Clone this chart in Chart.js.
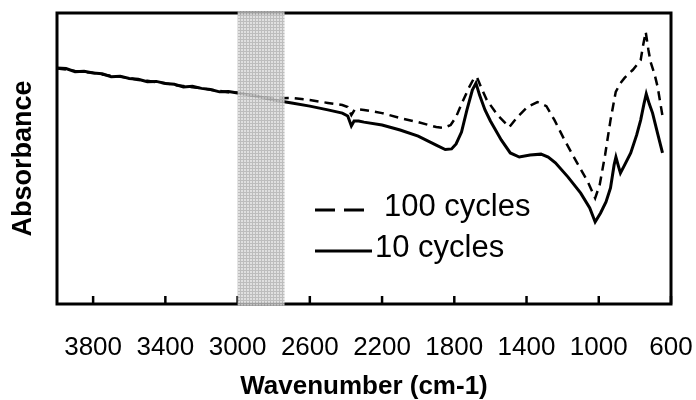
<!DOCTYPE html>
<html>
<head>
<meta charset="utf-8">
<script src="https://cdn.jsdelivr.net/npm/chart.js"></script>
<style>
  html, body { margin: 0; padding: 0; background: #fff; }
</style>
</head>
<body>
<canvas id="myChart" width="696" height="400"></canvas>
<script>
// x axis tick labels and the shaded band (wavenumber, cm-1)
const tickLabels = [3800, 3400, 3000, 2600, 2200, 1800, 1400, 1000, 600];
const shadeBand = [3000, 2740];

// 10 cycles (solid)
const wn10 = [4000, 3950, 3900, 3850, 3800, 3750, 3700, 3650, 3600, 3550, 3500, 3450, 3400, 3350, 3300, 3250, 3200, 3150, 3100, 3050,
  3000, 2900, 2800, 2700, 2600, 2500, 2420, 2390, 2370, 2355, 2330, 2300, 2200, 2100, 2000, 1900, 1850, 1815, 1790, 1760,
  1730, 1700, 1680, 1660, 1630, 1600, 1540, 1490, 1440, 1380, 1320, 1280, 1240, 1170, 1100, 1050, 1020, 990, 960, 935,
  915, 905, 890, 880, 860, 823, 790, 768, 750, 737, 720, 702, 675, 647];
const abs10 = [0.811, 0.809, 0.798, 0.800, 0.794, 0.791, 0.781, 0.783, 0.775, 0.772, 0.764, 0.765, 0.758, 0.755, 0.746, 0.748, 0.741, 0.737, 0.729, 0.730,
  0.725, 0.715, 0.701, 0.691, 0.680, 0.667, 0.656, 0.646, 0.612, 0.629, 0.629, 0.625, 0.615, 0.598, 0.577, 0.546, 0.531, 0.533, 0.550, 0.591,
  0.667, 0.735, 0.759, 0.718, 0.667, 0.629, 0.564, 0.519, 0.505, 0.512, 0.515, 0.505, 0.485, 0.436, 0.381, 0.330, 0.282, 0.313, 0.351, 0.399,
  0.478, 0.505, 0.471, 0.450, 0.474, 0.519, 0.581, 0.632, 0.687, 0.722, 0.687, 0.656, 0.588, 0.519];

// 100 cycles (dashed)
const wn100 = [4000, 3950, 3900, 3850, 3800, 3750, 3700, 3650, 3600, 3550, 3500, 3450, 3400, 3350, 3300, 3250, 3200, 3150, 3100, 3050,
  3000, 2900, 2800, 2700, 2600, 2500, 2420, 2390, 2370, 2350, 2300, 2200, 2100, 2000, 1900, 1860, 1820, 1790, 1760, 1720,
  1690, 1675, 1650, 1620, 1560, 1495, 1450, 1395, 1340, 1290, 1245, 1190, 1120, 1060, 1020, 995, 965, 935, 906, 880,
  857, 830, 812, 790, 768, 755, 740, 725, 713, 690, 674, 647];
const abs100 = [0.809, 0.806, 0.801, 0.797, 0.795, 0.789, 0.784, 0.781, 0.776, 0.770, 0.767, 0.762, 0.759, 0.752, 0.749, 0.745, 0.742, 0.736, 0.732, 0.728,
  0.726, 0.716, 0.706, 0.708, 0.701, 0.691, 0.684, 0.677, 0.649, 0.670, 0.667, 0.656, 0.639, 0.625, 0.608, 0.605, 0.615, 0.643, 0.687, 0.742,
  0.777, 0.780, 0.742, 0.701, 0.649, 0.608, 0.643, 0.677, 0.694, 0.680, 0.632, 0.564, 0.485, 0.419, 0.364, 0.409, 0.512, 0.632, 0.729, 0.759,
  0.777, 0.794, 0.804, 0.821, 0.838, 0.887, 0.935, 0.873, 0.832, 0.787, 0.746, 0.646];

const FONT = "'Liberation Sans', Arial, sans-serif";

function toPoints(xs, ys) {
  return xs.map((x, i) => ({ x: x, y: ys[i] }));
}

function makePattern(ctx) {
  const c = document.createElement('canvas');
  c.width = 3; c.height = 3;
  const p = c.getContext('2d');
  p.fillStyle = '#dcdcdc';
  p.fillRect(0, 0, 3, 3);
  p.fillStyle = '#b4b4b4';
  p.fillRect(0, 0, 3, 1);
  p.fillRect(0, 0, 1, 3);
  return ctx.createPattern(c, 'repeat');
}

const framePlugin = {
  id: 'frame',
  afterDatasetsDraw(chart) {
    const { ctx, chartArea: a, scales: { x } } = chart;
    ctx.save();

    // inward ticks on the x axis
    ctx.strokeStyle = '#000';
    ctx.lineWidth = 2.5;
    tickLabels.forEach(v => {
      const px = x.getPixelForValue(v);
      ctx.beginPath();
      ctx.moveTo(px, a.bottom);
      ctx.lineTo(px, a.bottom - 8);
      ctx.stroke();
    });

    // plot box
    ctx.lineWidth = 3;
    ctx.strokeRect(a.left, a.top, a.right - a.left, a.bottom - a.top);

    // shaded band drawn over lines and frame
    const x0 = x.getPixelForValue(shadeBand[0]);
    const x1 = x.getPixelForValue(shadeBand[1]);
    ctx.globalAlpha = 0.88;
    ctx.fillStyle = makePattern(ctx);
    ctx.fillRect(x0, a.top - 1.5, x1 - x0, a.bottom - a.top + 3);
    ctx.globalAlpha = 1;

    // legend inside the plot
    const rows = [
      { ds: chart.data.datasets[0], y: 210, x0: 315, x1: 364, tx: 384 },
      { ds: chart.data.datasets[1], y: 251, x0: 315, x1: 372, tx: 375 }
    ];
    ctx.font = '31px ' + FONT;
    ctx.textBaseline = 'middle';
    ctx.fillStyle = '#000';
    rows.forEach(r => {
      ctx.lineWidth = 3;
      ctx.setLineDash(r.ds.borderDash.length ? [20, 9] : []);
      ctx.beginPath();
      ctx.moveTo(r.x0, r.y);
      ctx.lineTo(r.x1, r.y);
      ctx.stroke();
      ctx.setLineDash([]);
      ctx.fillText(r.ds.label, r.tx, r.y - 3);
    });
    ctx.restore();
  }
};

const ctx = document.getElementById('myChart').getContext('2d');
new Chart(ctx, {
  type: 'scatter',
  data: {
    datasets: [
      {
        label: '100 cycles',
        data: toPoints(wn100, abs100),
        showLine: true,
        borderColor: '#000',
        borderWidth: 2.5,
        borderDash: [9, 6],
        pointRadius: 0,
        tension: 0
      },
      {
        label: '10 cycles',
        data: toPoints(wn10, abs10),
        showLine: true,
        borderColor: '#000',
        borderWidth: 3,
        borderDash: [],
        pointRadius: 0,
        tension: 0
      }
    ]
  },
  options: {
    responsive: false,
    animation: false,
    layout: { padding: { top: 13, right: 25, left: 0, bottom: 0 } },
    plugins: {
      legend: { display: false },
      tooltip: { enabled: false }
    },
    scales: {
      x: {
        type: 'linear',
        reverse: true,
        min: 600,
        max: 4000,
        afterBuildTicks: s => { s.ticks = tickLabels.map(v => ({ value: v })); },
        afterFit: s => {
          s.height = 96;
          s.paddingLeft = 0;
          s.paddingRight = 0;
        },
        grid: { display: false, drawTicks: false },
        border: { display: false },
        ticks: {
          color: '#000',
          font: { family: FONT, size: 26 },
          padding: 28,
          maxRotation: 0,
          autoSkip: false,
          callback: v => String(v)
        },
        title: {
          display: true,
          text: 'Wavenumber (cm-1)',
          color: '#000',
          font: { family: FONT, size: 26, weight: 'bold' },
          padding: { top: 0, bottom: -2 }
        }
      },
      y: {
        min: 0,
        max: 1,
        afterFit: s => { s.width = 57; },
        grid: { display: false, drawTicks: false },
        border: { display: false },
        ticks: { display: false },
        title: {
          display: true,
          text: 'Absorbance',
          color: '#000',
          font: { family: FONT, size: 27, weight: 'bold' },
          padding: { top: 7, bottom: 0 }
        }
      }
    }
  },
  plugins: [framePlugin]
});
</script>
</body>
</html>
